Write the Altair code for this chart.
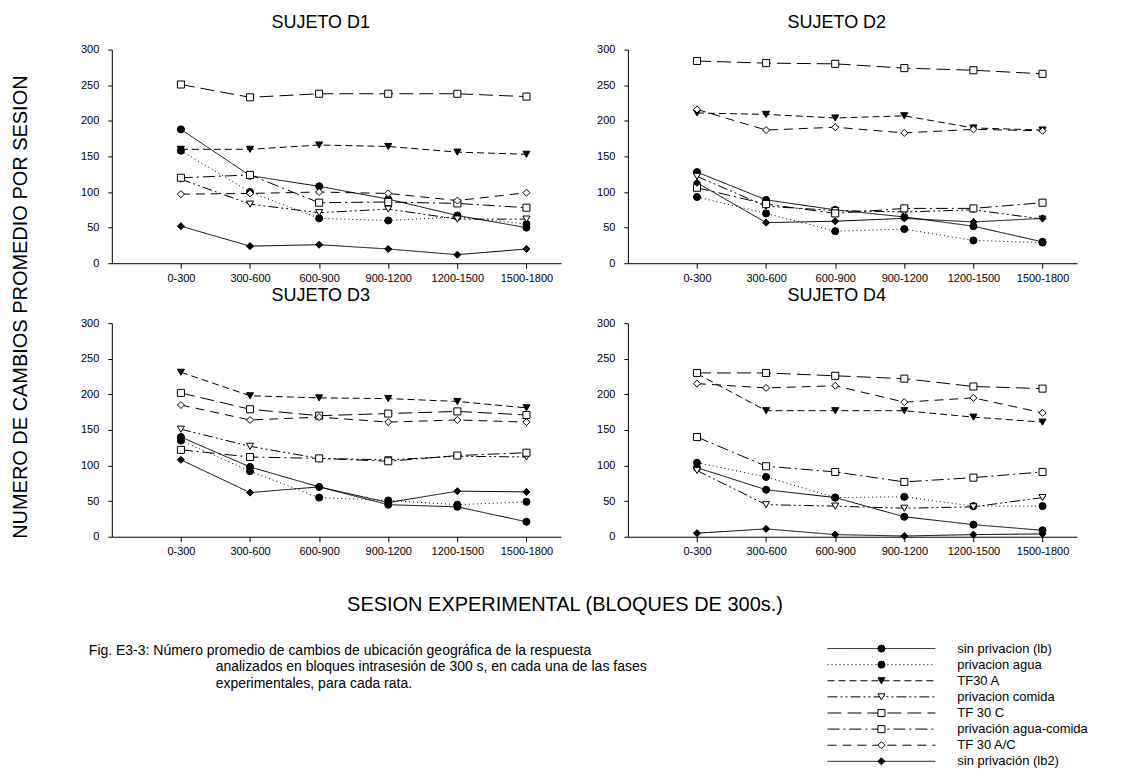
import json
import altair as alt
import pandas as pd

BLOQUES = ["0-300", "300-600", "600-900", "900-1200", "1200-1500", "1500-1800"]
SERIES = ["sin privacion (lb)", "privacion agua", "TF30 A", "privacion comida",
          "TF 30 C", "privación agua-comida", "TF 30 A/C", "sin privación (lb2)"]
SUJETOS = ["SUJETO D1", "SUJETO D2", "SUJETO D3", "SUJETO D4"]

# values per subject, rows in SERIES order, columns in BLOQUES order
D1 = [
    [188, 123, 108, 90, 67, 50],
    [158, 100, 63, 60, 65, 55],
    [160, 160, 166, 164, 156, 153],
    [118, 83, 71, 76, 62, 62],
    [251, 233, 238, 238, 238, 234],
    [120, 124, 85, 86, 84, 78],
    [97, 98, 100, 98, 88, 99],
    [52, 24, 26, 20, 12, 20],
]
D2 = [
    [128, 89, 75, 65, 52, 30],
    [93, 70, 45, 48, 32, 29],
    [211, 209, 204, 207, 190, 187],
    [122, 80, 74, 72, 75, 62],
    [284, 281, 280, 274, 271, 266],
    [106, 83, 70, 77, 77, 85],
    [216, 187, 191, 183, 188, 186],
    [113, 57, 59, 63, 58, 63],
]
D3 = [
    [140, 98, 70, 45, 42, 21],
    [135, 92, 55, 51, 45, 49],
    [231, 198, 195, 194, 190, 181],
    [151, 127, 110, 108, 113, 112],
    [202, 179, 170, 173, 176, 171],
    [122, 112, 110, 106, 114, 118],
    [185, 164, 168, 161, 164, 161],
    [108, 62, 70, 48, 64, 63],
]
D4 = [
    [97, 66, 55, 28, 17, 9],
    [104, 84, 55, 56, 43, 43],
    [229, 177, 177, 177, 168, 161],
    [93, 45, 43, 40, 42, 55],
    [230, 230, 226, 222, 211, 208],
    [140, 99, 91, 77, 83, 91],
    [215, 209, 212, 189, 195, 174],
    [5, 11, 3, 1, 3, 4],
]

Y_TITLE = "NUMERO DE CAMBIOS PROMEDIO POR SESION"
X_TITLE = "SESION EXPERIMENTAL (BLOQUES DE 300s.)"
CAPTION = [
    "Fig.  E3-3: Número promedio de cambios de ubicación geográfica de la respuesta",
    "analizados en bloques intrasesión de 300 s, en cada una de las fases",
    "experimentales, para cada rata.",
]

# styles
DASHES = [[1, 0], [1, 3], [7, 4], [10, 3, 2, 3, 2, 3], [14, 6], [12, 4, 2, 4], [9, 6], [1, 0]]
SHAPES = ["circle", "circle", "triangle-down", "triangle-down", "square", "square", "diamond", "diamond"]
FILLS = ["black", "black", "black", "white", "white", "white", "white", "black"]
FONT = "Liberation Sans"

dash_scale = alt.Scale(domain=SERIES, range=DASHES)
shape_scale = alt.Scale(domain=SERIES, range=SHAPES)
fill_scale = alt.Scale(domain=SERIES, range=FILLS)

label_expr = json.dumps(BLOQUES) + "[datum.value]"


def panel(title, rows):
    recs = []
    for s, vals in zip(SERIES, rows):
        for i, v in enumerate(vals):
            recs.append({"s": s, "i": i, "v": v})
    df = pd.DataFrame(recs)
    x = alt.X("i:Q", scale=alt.Scale(domain=[-1, 5.5], nice=False, zero=False),
              axis=alt.Axis(values=list(range(len(BLOQUES))), labelExpr=label_expr, title=None,
                            grid=False, labelOverlap=False, labelFlush=False, labelBound=False,
                            tickSize=5, labelPadding=4, labelFontSize=11, labelColor="black",
                            labelFont=FONT))
    y = alt.Y("v:Q", scale=alt.Scale(domain=[0, 300], nice=False),
              axis=alt.Axis(values=[0, 50, 100, 150, 200, 250, 300], title=None, grid=False,
                            tickSize=4, labelPadding=9, labelFontSize=11, labelColor="black",
                            labelFont=FONT))
    lines = alt.Chart(df).mark_line(color="black", strokeWidth=1).encode(
        x=x, y=y,
        strokeDash=alt.StrokeDash("s:N", scale=dash_scale, legend=None),
        detail="s:N",
    )
    pts = alt.Chart(df).mark_point(filled=True, stroke="black", strokeWidth=1, size=50, opacity=1).encode(
        x=x, y=y,
        shape=alt.Shape("s:N", scale=shape_scale, legend=None),
        fill=alt.Fill("s:N", scale=fill_scale, legend=None),
    )
    return alt.layer(lines, pts).properties(
        width=450, height=214,
        title=alt.TitleParams(title, fontSize=18, fontWeight="normal", font=FONT, offset=12,
                              frame="bounds", color="black"),
    )


p1 = panel(SUJETOS[0], D1)
p2 = panel(SUJETOS[1], D2)
p3 = panel(SUJETOS[2], D3)
p4 = panel(SUJETOS[3], D4)

grid = alt.vconcat(
    alt.hconcat(p1, p2, spacing=34),
    alt.hconcat(p3, p4, spacing=34),
    spacing=2,
)

ylab = alt.Chart(pd.DataFrame({"t": [Y_TITLE]})).mark_text(
    angle=270, fontSize=20, font=FONT, color="black"
).encode(text="t:N", x=alt.value(12), y=alt.value(258)).properties(width=40, height=540)

top = alt.hconcat(ylab, grid, spacing=30)

# bottom: x title, caption and legend
BW, BH = 1113, 175
xt = alt.Chart(pd.DataFrame({"t": [X_TITLE]})).mark_text(
    fontSize=20, font=FONT, color="black", align="center", baseline="middle"
).encode(text="t:N", x=alt.value(557), y=alt.value(14))

cap_layers = []
for k, line in enumerate(CAPTION):
    cap_layers.append(
        alt.Chart(pd.DataFrame({"t": [line]})).mark_text(
            fontSize=14, font=FONT, color="black", align="left", baseline="middle"
        ).encode(text="t:N", x=alt.value(80 if k == 0 else 207), y=alt.value(60 + 17 * k))
    )

leg_recs = []
for s in SERIES:
    leg_recs.append({"s": s, "lx": 0.0})
    leg_recs.append({"s": s, "lx": 1.0})
leg_df = pd.DataFrame(leg_recs)
leg_pts_df = pd.DataFrame({"s": SERIES, "lx": [0.5] * len(SERIES)})

lx = alt.X("lx:Q", scale=alt.Scale(domain=[0, 1], range=[820, 928]), axis=None)
ly = alt.Y("s:N", scale=alt.Scale(type="point", domain=SERIES, range=[58, 171], padding=0), axis=None)

leg_lines = alt.Chart(leg_df).mark_line(color="black", strokeWidth=1).encode(
    x=lx, y=ly, detail="s:N",
    strokeDash=alt.StrokeDash("s:N", scale=dash_scale, legend=None),
)
leg_pts = alt.Chart(leg_pts_df).mark_point(filled=True, stroke="black", strokeWidth=1, size=50, opacity=1).encode(
    x=lx, y=ly,
    shape=alt.Shape("s:N", scale=shape_scale, legend=None),
    fill=alt.Fill("s:N", scale=fill_scale, legend=None),
)
leg_txt = alt.Chart(leg_pts_df).mark_text(
    fontSize=13, font=FONT, color="black", align="left", baseline="middle"
).encode(x=alt.value(950), y=ly, text="s:N")

bottom = alt.layer(xt, *cap_layers, leg_lines, leg_pts, leg_txt).properties(width=BW, height=BH)

chart = alt.vconcat(top, bottom, spacing=0).properties(
    padding={"left": 0, "top": 4, "right": 0, "bottom": 0}
).configure_view(
    stroke="transparent"
).configure_axis(
    labelFont=FONT, labelColor="black", domainColor="black", tickColor="black",
    domainWidth=1, tickWidth=1,
).configure_title(font=FONT, color="black", fontWeight="normal")

chart.save("out.html", embed_options={"renderer": "svg", "actions": False})
